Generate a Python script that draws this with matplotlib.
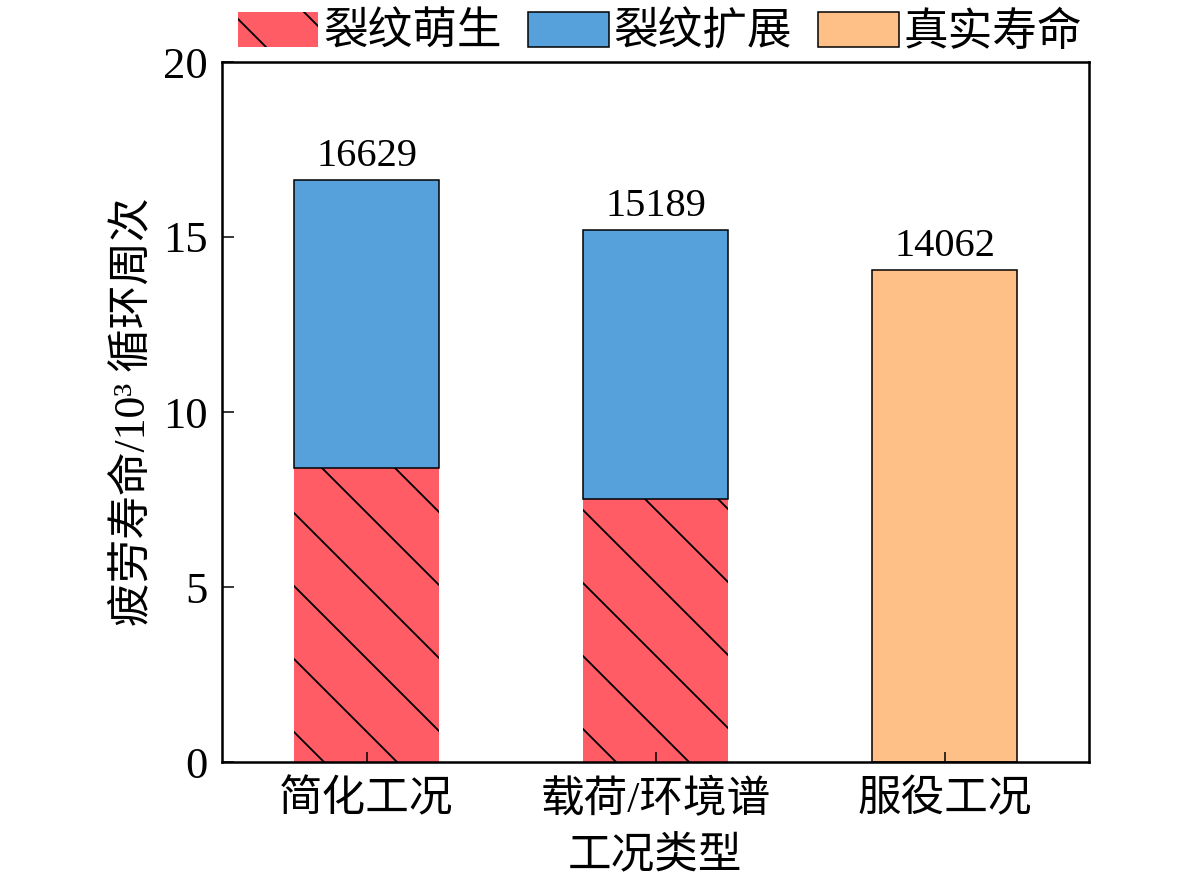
import numpy as np
import matplotlib
matplotlib.use('Agg')
import matplotlib.pyplot as plt
from matplotlib.backend_bases import GraphicsContextBase

# sparse hatch: one diagonal per tile instead of six
_hatch_path = GraphicsContextBase.get_hatch_path
GraphicsContextBase.get_hatch_path = lambda self, density=6.0: _hatch_path(self, 2)

plt.rcParams['font.family'] = ['Liberation Serif', 'Noto Sans CJK SC']
plt.rcParams['hatch.linewidth'] = 1.8

categories = ['简化工况', '载荷/环境谱', '服役工况']
initiation = [8.4, 7.5]          # 裂纹萌生, 10^3 cycles
propagation = [8.229, 7.689]     # 裂纹扩展
real_life = [14.062]             # 真实寿命
totals = ['16629', '15189', '14062']

DPI = 73
fig = plt.figure(figsize=(1181 / DPI, 892 / DPI), dpi=DPI)
ax = fig.add_axes([222 / 1181, 1 - 762 / 892, (1089 - 222) / 1181, (762 - 62) / 892])

x = np.arange(len(categories))
w = 0.5
red = '#FF5C66'
blue = '#56A0DC'
orange = '#FFC088'

b1 = ax.bar(x[:2], initiation, w, color=red, edgecolor='black', linewidth=0,
            hatch='\\', label='裂纹萌生')
b2 = ax.bar(x[:2], propagation, w, bottom=initiation, color=blue, edgecolor='black',
            linewidth=1.5, label='裂纹扩展')
b3 = ax.bar(x[2:], real_life, w, color=orange, edgecolor='black', linewidth=1.5,
            label='真实寿命')

tops = [initiation[0] + propagation[0], initiation[1] + propagation[1], real_life[0]]
for i in range(3):
    ax.text(x[i], tops[i] + 0.15, totals[i], ha='center', va='bottom', fontsize=40)

ax.set_xlim(-0.5, 2.5)
ax.set_ylim(0, 20)
ax.set_yticks([0, 5, 10, 15, 20])
ax.set_xticks(x)
ax.set_xticklabels(categories, fontsize=43)
ax.tick_params(axis='y', labelsize=44, direction='in', length=12, width=1.5, pad=14)
ax.tick_params(axis='x', direction='in', length=10, width=1.5, pad=18)
for s in ax.spines.values():
    s.set_linewidth(2.5)

ax.set_xlabel('工况类型', fontsize=43, labelpad=14)
ax.set_ylabel('疲劳寿命/10³ 循环周次', fontsize=43, labelpad=10)

ax.legend(loc='lower center', bbox_to_anchor=(0.505, 1.005), ncol=3, frameon=False,
          fontsize=44, handlelength=1.8, handleheight=0.83, handletextpad=0.1,
          columnspacing=0.6, borderaxespad=0.0, borderpad=0.1)

fig.savefig('out.png', dpi=DPI)
